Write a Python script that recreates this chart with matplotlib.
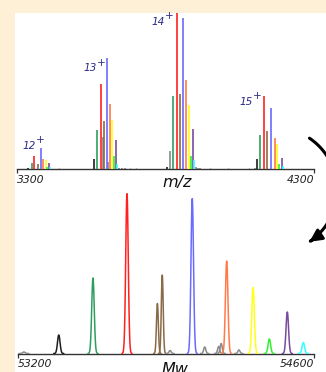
import numpy as np
import matplotlib
matplotlib.use("Agg")
import matplotlib.pyplot as plt
from matplotlib.patches import Rectangle, FancyArrowPatch
from matplotlib.path import Path

# ---------------- data ----------------
species_colors = {
    "k": "#1e1e1e", "g": "#2e9e5e", "r": "#ff2020", "b": "#8b6a48",
    "u": "#6a6aff", "o": "#ff7a48", "y": "#ffff1a", "l": "#33ee33",
    "p": "#7a4a9e", "c": "#33ffff", "x": "#8a8a8a",
}

# top spectrum: charge-state clusters (m/z, intensity, color key)
mz_12 = [3338, 3349, 3358, 3370, 3380, 3389, 3397, 3400, 3408, 3411]
int_12 = [2, 6.5, 13.5, 6, 21.5, 10.5, 9.5, 3, 6.5, 3]
col_12 = ["k", "g", "r", "b", "u", "o", "y", "l", "p", "c"]

mz_13 = [3560, 3570, 3582, 3590, 3593, 3602, 3607, 3613, 3621, 3627, 3632, 3638, 3645, 3652, 3662]
int_13 = [11, 40, 86, 33, 49, 112, 8, 66, 50, 13.5, 30, 6, 2, 2, 1.5]
col_13 = ["k", "g", "r", "x", "b", "u", "x", "o", "y", "l", "p", "c", "x", "x", "x"]

mz_14 = [3804, 3815, 3824, 3838, 3849, 3859, 3870, 3880, 3885, 3892, 3896, 3903, 3910, 3915]
int_14 = [2.5, 18.5, 74, 157, 76, 152, 90, 64.5, 13.5, 40.5, 10, 2.5, 2, 2]
col_14 = ["k", "x", "g", "r", "b", "u", "o", "y", "l", "p", "c", "x", "x", "x"]

mz_15 = [4100, 4107, 4118, 4132, 4143, 4154, 4168, 4176, 4182, 4191, 4197]
int_15 = [1.5, 10.5, 35, 73.5, 38.5, 62, 32, 25.5, 6, 12, 3.5]
col_15 = ["x", "k", "g", "r", "b", "u", "o", "y", "l", "p", "c"]

mz_noise = [3440, 3680, 3700, 3950, 4010, 4080]
int_noise = [1.2, 1.5, 1.2, 1.5, 1.2, 1.5]

charge_labels = ["12", "13", "14", "15"]
charge_label_mz = [3364, 3569, 3798, 4095]
charge_label_int = [24, 101.5, 148, 68]

# bottom spectrum: deconvolved masses
mass_peaks = [53228, 53393, 53555, 53716, 53860, 53883, 53920, 54025, 54084,
              54150, 54162, 54188, 54246, 54313, 54390, 54475, 54551]
mass_heights = [1.5, 18.5, 75.5, 160, 50, 78.5, 3, 155, 6.5,
                7, 10, 92.5, 3.5, 66, 14.5, 41.5, 11]
mass_colors = ["x", "k", "g", "r", "b", "b", "x", "u", "x",
               "x", "x", "o", "x", "y", "l", "p", "c"]
mass_sigma = [6, 6, 6, 6, 4.5, 4.5, 5, 6, 5, 5, 5, 6, 5, 6, 6, 6, 6]

mz_ticks = [3300, 4300]
mass_ticks = [53200, 54600]

# ---------------- figure ----------------
W, H = 326, 372
fig = plt.figure(figsize=(W / 100, H / 100), dpi=100)
fig.patch.set_facecolor("#fdf0d6")
fig.patches.append(Rectangle((15 / W, 0), 1 - 15 / W, 1 - 13 / H,
                             transform=fig.transFigure, facecolor="white",
                             edgecolor="none", zorder=-10))

def px_axes(x0, x1, ytop, ybase):
    return fig.add_axes([x0 / W, 1 - ybase / H, (x1 - x0) / W, (ybase - ytop) / H])

tick_font = dict(family="DejaVu Sans", style="italic", size=7.8, color="#222222")
label_font = dict(family="DejaVu Sans", style="italic", size=11.5, color="#111111")

def style_axis(ax, ticks, ylim):
    ax.set_facecolor("none")
    for s in ["top", "left", "right"]:
        ax.spines[s].set_visible(False)
    ax.spines["bottom"].set_color("#333333")
    ax.spines["bottom"].set_linewidth(1.0)
    ax.set_xlim(ticks[0], ticks[1])
    ax.set_ylim(*ylim)
    ax.set_yticks([])
    ax.set_xticks(ticks)
    ax.set_xticklabels([str(t) for t in ticks], **tick_font)
    ax.tick_params(axis="x", direction="out", length=3, width=0.9,
                   color="#333333", pad=1.2)
    labs = ax.get_xticklabels()
    labs[0].set_ha("left")
    labs[1].set_ha("right")

# top: m/z spectrum
ax1 = px_axes(17, 314, 13, 169.5)
style_axis(ax1, mz_ticks, (0, 157))
for mz, it, cc in [(mz_12, int_12, col_12), (mz_13, int_13, col_13),
                   (mz_14, int_14, col_14), (mz_15, int_15, col_15)]:
    for m, h, c in zip(mz, it, cc):
        ax1.vlines(m, 0, h, color=species_colors[c], lw=1.2, zorder=3 if c != "x" else 2)
ax1.vlines(mz_noise, 0, int_noise, color=species_colors["x"], lw=0.9)
for lab, m, h in zip(charge_labels, charge_label_mz, charge_label_int):
    ax1.text(m, h, lab, ha="right", va="center", color="#2a2a85",
             family="DejaVu Sans", style="italic", size=7.6)
    ax1.annotate("+", (m, h), xytext=(3.2, 4), textcoords="offset points",
                 ha="center", va="center", color="#2a2a85",
                 family="DejaVu Sans", style="italic", size=7.6)
fig.text(177.5 / W, 1 - 186.5 / H, "m/z", ha="center", va="baseline", **label_font)

# bottom: deconvoluted mass spectrum
ax2 = px_axes(18, 313.7, 190, 353.5)
style_axis(ax2, mass_ticks, (0, 163.5))
for m, h, c, s in zip(mass_peaks, mass_heights, mass_colors, mass_sigma):
    xx = np.linspace(m - 4 * s, m + 4 * s, 80)
    yy = h * np.exp(-0.5 * ((xx - m) / s) ** 2)
    ax2.plot(xx, yy, color=species_colors[c], lw=1.1, zorder=3, solid_capstyle="round")
fig.text(175 / W, 1 - 374 / H, "Mw", ha="center", va="baseline", **label_font)

# curved arrow from top panel to bottom panel
cx, cy, r = 274.5, 190.0, 62.5
theta = np.radians(np.linspace(56, -56, 120))
ax_pts = (cx + r * np.cos(theta)) / W
ay_pts = 1 - (cy - r * np.sin(theta)) / H
arrow = FancyArrowPatch(path=Path(np.column_stack([ax_pts, ay_pts])),
                        arrowstyle="-|>", mutation_scale=18, lw=2.2,
                        color="black", transform=fig.transFigure,
                        shrinkA=0, shrinkB=0)
fig.patches.append(arrow)

fig.savefig("out.png", dpi=100, facecolor=fig.get_facecolor())
